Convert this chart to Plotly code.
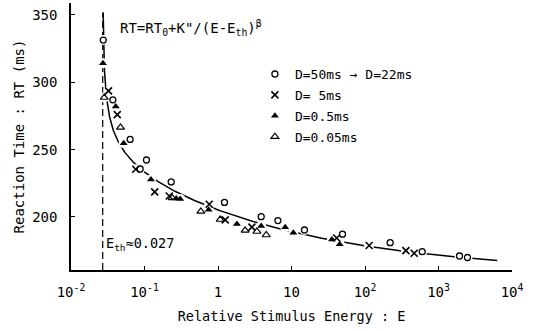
import numpy as np
import plotly.graph_objects as go

# ---- model parameters (from the figure's formula) ----
E_TH = 0.027
RT0 = 158.0
K2 = 47.0
BETA = 0.18
CURVE_X_MIN = 0.00038   # E - E_th at top of the fitted curve
CURVE_E_MAX = 6300.0
DASH_TOP = 351.5

# ---- data ----
circ_E = [0.0275, 0.0371, 0.0638, 0.1064, 0.0874, 0.2307, 1.225, 3.87, 6.53, 15.0, 49.4, 220, 600, 1930, 2480]
circ_RT = [331.4, 287.0, 257.6, 242.3, 235.6, 226.0, 210.8, 200.2, 197.3, 190.3, 187.2, 180.9, 174.2, 171.0, 169.9]

x_E = [0.0324, 0.0426, 0.0759, 0.1377, 0.217, 0.759, 1.253, 2.89, 41.2, 114, 360, 467]
x_RT = [293.6, 276.0, 235.4, 218.6, 215.6, 209.4, 197.8, 192.4, 184.4, 178.8, 175.0, 173.0]

ftri_E = [0.0272, 0.0406, 0.0521, 0.1222, 0.270, 0.306, 0.747, 1.81, 3.87, 8.2, 10.6, 35.5, 45.3]
ftri_RT = [314.1, 282.1, 254.7, 227.8, 213.7, 213.4, 205.4, 194.8, 193.3, 192.4, 188.3, 183.3, 179.8]

otri_E = [0.0283, 0.0471, 0.238, 0.585, 1.07, 2.34, 3.38, 4.53]
otri_RT = [288.7, 266.5, 214.1, 204.1, 198.1, 190.0, 189.2, 186.6]

labels = ["D=50ms \u2192 D=22ms", "D= 5ms", "D=0.5ms", "D=0.05ms"]

x_tickvals = [0.01, 0.1, 1, 10, 100, 1000, 10000]
x_ticktext = ["10<sup>-2</sup>", "10<sup>-1</sup>", "1", "10", "10<sup>2</sup>", "10<sup>3</sup>", "10<sup>4</sup>"]
y_tickvals = [200, 250, 300, 350]
Y_RANGE = [160.6, 358.9]

FONT = "DejaVu Sans Mono"

# fitted curve
xs = np.geomspace(CURVE_X_MIN, CURVE_E_MAX - E_TH, 400)
curve_E = xs + E_TH
curve_RT = RT0 + K2 / xs ** BETA

fig = go.Figure()
fig.add_trace(go.Scatter(x=curve_E, y=curve_RT, mode="lines",
                         line=dict(color="black", width=1.5), showlegend=False, hoverinfo="skip"))
fig.add_trace(go.Scatter(x=[E_TH, E_TH], y=[Y_RANGE[0], DASH_TOP], mode="lines",
                         line=dict(color="black", width=1.2, dash="7px,4px"), showlegend=False, hoverinfo="skip"))
# white halos that break the curve around markers
all_E = circ_E + x_E + ftri_E + otri_E
all_RT = circ_RT + x_RT + ftri_RT + otri_RT
fig.add_trace(go.Scatter(x=all_E, y=all_RT, mode="markers",
                         marker=dict(symbol="circle", size=10, color="white"), showlegend=False, hoverinfo="skip"))

series = [
    (circ_E, circ_RT, dict(symbol="circle-open", size=6, color="black", line=dict(width=1.3, color="black"))),
    (x_E, x_RT, dict(symbol="x-thin-open", size=7, color="black", line=dict(width=1.6, color="black"))),
    (ftri_E, ftri_RT, dict(symbol="triangle-up", size=7, color="black", line=dict(width=0))),
    (otri_E, otri_RT, dict(symbol="triangle-up-open", size=7, color="black", line=dict(width=1.2, color="black"))),
]
for (ex, ry, mk), lab in zip(series, labels):
    fig.add_trace(go.Scatter(x=ex, y=ry, mode="markers", marker=mk, name=lab, legendgroup=lab))

fig.add_annotation(xref="paper", yref="paper", x=0.1066, y=0.906, xanchor="left", yanchor="middle",
                   text="RT=RT<sub>0</sub>+K\"/(E-E<sub>th</sub>)<sup>\u03b2</sup>", showarrow=False,
                   font=dict(family=FONT, size=14, color="black"))
fig.add_annotation(xref="paper", yref="paper", x=0.0748, y=0.098, xanchor="left", yanchor="middle",
                   text="E<sub>th</sub>\u22480.027", showarrow=False,
                   font=dict(family=FONT, size=13.5, color="black"))

fig.update_layout(
    width=534, height=331,
    margin=dict(l=71, r=22, t=3, b=61),
    paper_bgcolor="white", plot_bgcolor="white",
    font=dict(family=FONT, color="black", size=14),
    legend=dict(x=0.417, y=0.79, xanchor="left", yanchor="top", bgcolor="rgba(0,0,0,0)",
                font=dict(family=FONT, size=13, color="black"), tracegroupgap=1),
)
fig.update_xaxes(type="log", range=[-2, 4], tickvals=x_tickvals, ticktext=x_ticktext,
                 showline=True, linecolor="black", linewidth=1.5, showgrid=False, zeroline=False,
                 ticks="inside", ticklen=4, tickcolor="black", ticklabelstandoff=8,
                 tickfont=dict(family=FONT, size=14),
                 title=dict(text="Relative Stimulus Energy : E", font=dict(family=FONT, size=13.5), standoff=13))
fig.update_yaxes(range=Y_RANGE, tickvals=y_tickvals,
                 showline=True, linecolor="black", linewidth=1.5, showgrid=False, zeroline=False,
                 ticks="inside", ticklen=4, tickcolor="black", ticklabelstandoff=9,
                 tickfont=dict(family=FONT, size=14),
                 title=dict(text="Reaction Time : RT (ms)", font=dict(family=FONT, size=14), standoff=4))

fig.write_html("out.html")
